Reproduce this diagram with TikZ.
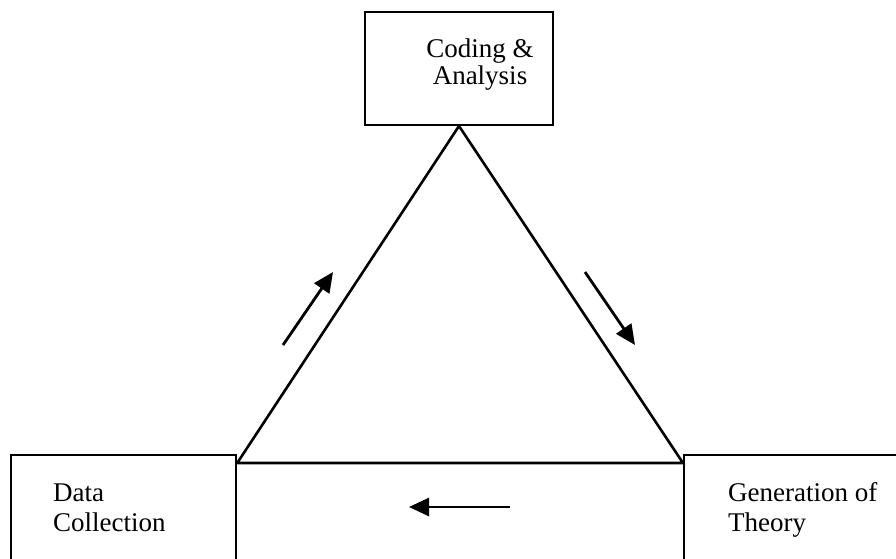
\documentclass[tikz,border=0pt]{standalone}
\usepackage{fontspec}
\setmainfont{Liberation Serif}
\usetikzlibrary{positioning}
\usetikzlibrary{arrows.meta}

\begin{document}
\begin{tikzpicture}[
  x={(1pt,0pt)}, y={(0pt,-1pt)},
  box/.style = {draw, line width=2.2pt, inner sep=0pt},
  side/.style = {line width=2.6pt},
  flow/.style = {line width=2.8pt, -{Triangle[length=20pt, width=18pt]}},
  txt/.style = {inner sep=0pt, align=left, font=\fontsize{27}{30}\selectfont},
]

  \useasboundingbox (0,0) rectangle (896,558);
  \clip (0,0) rectangle (896,558);

  % the three stages
  \node[box, minimum width=188pt, minimum height=113pt, anchor=south,
    label={[txt, align=center, anchor=north, xshift=21pt, yshift=-27.5pt,
      font=\fontsize{27}{27.5}\selectfont]north:{Coding \&\\Analysis}}]
    (coding) at (459,126) {};
  \node[box, minimum width=225pt, minimum height=150pt, anchor=north west,
    label={[txt, anchor=north west, xshift=43pt, yshift=-30pt]north west:{Data\\Collection}}]
    (data) at (10,454) {};
  \node[box, minimum width=250pt, minimum height=150pt, anchor=north west,
    label={[txt, anchor=north west, xshift=45pt, yshift=-28pt]north west:{Generation of\\Theory}}]
    (theory) at (683,454) {};

  \coordinate (dl) at ([yshift=-9pt]data.north east);
  \coordinate (dr) at ([yshift=-9pt]theory.north west);

  \draw[side] (dl) -- (coding.south) -- (dr) -- cycle;

  % direction of the cycle
  \coordinate (up0) at (283,345);
  \coordinate (up1) at (333,272);
  \coordinate (dn0) at (585,272);
  \coordinate (dn1) at (635,345);
  \coordinate (bk0) at (510,507);
  \coordinate (bk1) at (409,507);

  \draw[flow] (up0) -- (up1);
  \draw[flow] (dn0) -- (dn1);
  \draw[flow] (bk0) -- (bk1);

\end{tikzpicture}
\end{document}
